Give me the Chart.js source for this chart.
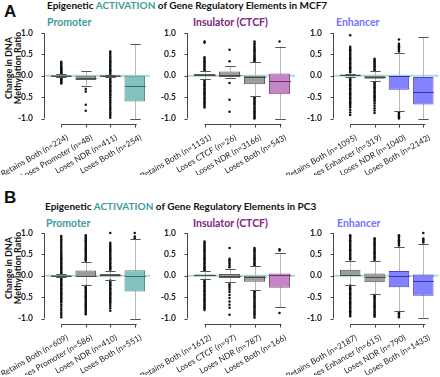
<!DOCTYPE html>
<html>
<head>
<meta charset="utf-8">
<script src="https://cdn.jsdelivr.net/npm/chart.js@4.4.0/dist/chart.umd.min.js"></script>
<style>
  body { margin: 0; width: 440px; height: 377px; background: #fff; position: relative; overflow: hidden; font-family: Lato, sans-serif; }
  canvas { position: absolute; }
  .txt { position: absolute; white-space: nowrap; font-weight: bold; line-height: 1; color: #111; }
  .big { font-family: 'Liberation Sans', Arial, sans-serif; font-size: 17px; }
  .title { font-size: 10px; }
  .head { font-size: 10.5px; }
  .ylab { font-size: 9px; line-height: 8.5px; text-align: center; transform: translate(-50%, -50%) rotate(-90deg); }
  .teal { color: #3f9c98; }
  .purple { color: #7d2580; }
  .blue { color: #7373ff; }
</style>
</head>
<body>
<div class="txt big" style="left:4px;top:3px">A</div>
<div class="txt title" style="left:47px;top:0px">Epigenetic <span class="teal">ACTIVATION</span> of Gene Regulatory Elements in MCF7</div>
<div class="txt head teal" style="left:47px;top:16.5px">Promoter</div>
<div class="txt head purple" style="left:193px;top:16.5px">Insulator (CTCF)</div>
<div class="txt head blue" style="left:336px;top:16.5px">Enhancer</div>
<div class="txt ylab" style="left:13px;top:68px">Change in DNA<br>Methylation Ratio</div>

<div class="txt big" style="left:4px;top:189px">B</div>
<div class="txt title" style="left:45px;top:201.3px">Epigenetic <span class="teal">ACTIVATION</span> of Gene Regulatory Elements in PC3</div>
<div class="txt head teal" style="left:46px;top:218px">Promoter</div>
<div class="txt head purple" style="left:193px;top:218px">Insulator (CTCF)</div>
<div class="txt head blue" style="left:337px;top:218px">Enhancer</div>
<div class="txt ylab" style="left:13px;top:268px">Change in DNA<br>Methylation Ratio</div>

<canvas id="a1" width="152" height="150" style="left:0px;top:25px"></canvas>
<canvas id="a2" width="177" height="150" style="left:120px;top:25px"></canvas>
<canvas id="a3" width="170" height="150" style="left:270px;top:25px"></canvas>
<canvas id="b1" width="152" height="150" style="left:0px;top:225px"></canvas>
<canvas id="b2" width="177" height="150" style="left:120px;top:225px"></canvas>
<canvas id="b3" width="170" height="150" style="left:270px;top:225px"></canvas>

<script>
// ---- MCF7 promoter ----
const mcf7PromoterLabels = ['Retains Both (n=224)', 'Loses Promoter (n=48)', 'Loses NDR (n=411)', 'Loses Both (n=254)'];
const mcf7PromoterMin = [-0.03, -0.23, -0.02, -1.0];
const mcf7PromoterQ1 = [-0.01, -0.1, -0.01, -0.6];
const mcf7PromoterMedian = [0, -0.05, 0, -0.25];
const mcf7PromoterQ3 = [0.01, 0, 0.01, 0];
const mcf7PromoterMax = [0.03, 0.1, 0.02, 0.75];
const mcf7PromoterOutliers = [
  [0.33, 0.29, 0.26, 0.23, 0.2, 0.18, 0.16, 0.14, 0.12, 0.1, 0.08, 0.06, 0.04, -0.04, -0.06, -0.08, -0.1, -0.12, -0.14, -0.16, -0.18],
  [-0.31, -0.37, -0.68, -0.82],
  [0.57, 0.53, 0.49, 0.45, 0.41, 0.37, 0.34, 0.31, 0.28, 0.25, 0.22, 0.19, 0.16, 0.13, 0.1, 0.07, 0.04, -0.04, -0.07, -0.1, -0.13, -0.16, -0.19, -0.22, -0.25, -0.28, -0.31, -0.34, -0.37, -0.4, -0.43, -0.46, -0.5, -0.54, -0.58, -0.62, -0.66, -0.7, -0.74, -0.78, -0.82, -0.86, -0.9, -0.94, -0.98],
  []
];

// ---- MCF7 insulator ----
const mcf7InsulatorLabels = ['Retains Both (n=1131)', 'Loses CTCF (n=26)', 'Loses NDR (n=3166)', 'Loses Both (n=543)'];
const mcf7InsulatorMin = [-0.08, -0.05, -0.48, -1.0];
const mcf7InsulatorQ1 = [-0.01, -0.03, -0.2, -0.43];
const mcf7InsulatorMedian = [0.01, 0.02, -0.03, -0.13];
const mcf7InsulatorQ3 = [0.04, 0.1, 0, 0.05];
const mcf7InsulatorMax = [0.1, 0.22, 0.31, 0.68];
const mcf7InsulatorOutliers = [
  [0.8, 0.77, 0.43, 0.4, 0.37, 0.34, 0.31, 0.28, 0.25, 0.22, 0.19, 0.16, 0.13, -0.11, -0.14, -0.17, -0.2, -0.23, -0.26, -0.29, -0.32, -0.35, -0.38, -0.41, -0.44, -0.47, -0.5, -0.53, -0.56, -0.59, -0.62, -0.65, -0.68, -0.71, -0.74],
  [0.61, 0.34, -0.17, -0.56, -0.84],
  [0.8, 0.76, 0.72, 0.68, 0.65, 0.62, 0.59, 0.56, 0.53, 0.5, 0.47, 0.44, 0.41, 0.38, 0.35, 0.33, -0.5, -0.53, -0.56, -0.59, -0.62, -0.65, -0.68, -0.71, -0.74, -0.77, -0.8, -0.83, -0.86, -0.89, -0.92, -0.95, -0.98, -1.0],
  [0.8]
];

// ---- MCF7 enhancer ----
const mcf7EnhancerLabels = ['Retains Both (n=1095)', 'Loses Enhancer (n=319)', 'Loses NDR (n=1040)', 'Loses Both (n=2142)'];
const mcf7EnhancerMin = [-0.02, -0.12, -0.82, -1.0];
const mcf7EnhancerQ1 = [0, -0.07, -0.33, -0.67];
const mcf7EnhancerMedian = [0.02, -0.03, -0.01, -0.39];
const mcf7EnhancerQ3 = [0.03, 0, 0, -0.03];
const mcf7EnhancerMax = [0.05, 0.1, 0.53, 0.9];
const mcf7EnhancerOutliers = [
  [0.95, 0.68, 0.65, 0.62, 0.59, 0.56, 0.53, 0.5, 0.47, 0.44, 0.41, 0.38, 0.35, 0.32, 0.29, 0.26, 0.23, 0.2, 0.17, 0.14, 0.11, 0.08, -0.05, -0.08, -0.11, -0.14, -0.17, -0.2, -0.23, -0.26, -0.29, -0.32, -0.35, -0.38, -0.41, -0.44, -0.47, -0.5, -0.53, -0.56, -0.59, -0.62, -0.65, -0.68, -0.71, -0.74, -0.8, -0.86, -0.92],
  [0.4, 0.37, 0.34, 0.31, 0.28, 0.25, 0.22, 0.19, 0.16, 0.13, -0.15, -0.18, -0.21, -0.24, -0.27, -0.3, -0.33, -0.36, -0.39, -0.42, -0.45, -0.48, -0.51, -0.54, -0.57, -0.6, -0.65, -0.7, -0.76, -0.81, -0.87],
  [0.85, 0.75, 0.72, 0.69, 0.66, 0.63, 0.6, 0.57, -0.86, -0.89, -0.92, -0.95, -0.98, -1.0],
  []
];

// ---- PC3 promoter ----
const pc3PromoterLabels = ['Retains Both (n=609)', 'Loses Promoter (n=586)', 'Loses NDR (n=410)', 'Loses Both (n=551)'];
const pc3PromoterMin = [-0.03, -0.21, -0.09, -1.0];
const pc3PromoterQ1 = [-0.01, -0.03, -0.02, -0.37];
const pc3PromoterMedian = [0, 0, 0.02, 0];
const pc3PromoterQ3 = [0.01, 0.12, 0.04, 0.13];
const pc3PromoterMax = [0.03, 0.31, 0.12, 0.85];
const pc3PromoterOutliers = [
  [0.93, 0.89, 0.85, 0.81, 0.77, 0.73, 0.69, 0.65, 0.61, 0.57, 0.53, 0.5, 0.47, 0.44, 0.41, 0.38, 0.35, 0.32, 0.29, 0.26, 0.23, 0.2, 0.17, 0.14, 0.11, 0.08, 0.05, -0.05, -0.08, -0.11, -0.14, -0.17, -0.2, -0.23, -0.26, -0.29, -0.32, -0.35, -0.38, -0.41, -0.44, -0.47, -0.5, -0.53, -0.56, -0.59, -0.62, -0.67, -0.72, -0.77, -0.82, -0.87, -0.92, -0.97],
  [0.95, 0.92, 0.89, 0.86, 0.83, 0.8, 0.77, 0.74, 0.71, 0.68, 0.65, 0.62, 0.59, 0.56, 0.53, 0.5, 0.47, 0.44, 0.41, 0.38, 0.35, -0.24, -0.27, -0.3, -0.33, -0.36, -0.39, -0.42, -0.45, -0.48, -0.51, -0.54, -0.57, -0.6, -0.63, -0.66, -0.69, -0.72, -0.75, -0.78, -0.81, -0.84, -0.87, -0.9],
  [1.0, 0.77, 0.74, 0.71, 0.68, 0.65, 0.62, 0.59, 0.56, 0.53, 0.5, 0.47, 0.44, 0.41, 0.38, 0.35, 0.32, 0.29, 0.26, 0.23, 0.2, 0.17, 0.14, -0.11, -0.14, -0.17, -0.2, -0.23, -0.26, -0.29, -0.32, -0.35, -0.38, -0.41, -0.44, -0.47, -0.5, -0.53, -0.56, -0.59, -0.62, -0.66, -0.71, -0.76, -0.82],
  [1.0, 0.92, 0.88]
];

// ---- PC3 insulator ----
const pc3InsulatorLabels = ['Retains Both (n=1612)', 'Loses CTCF (n=97)', 'Loses NDR (n=787)', 'Loses Both (n=166)'];
const pc3InsulatorMin = [-0.08, -0.15, -0.34, -0.74];
const pc3InsulatorQ1 = [-0.01, -0.05, -0.14, -0.28];
const pc3InsulatorMedian = [0.01, 0, -0.03, 0.02];
const pc3InsulatorQ3 = [0.03, 0.04, 0, 0.05];
const pc3InsulatorMax = [0.1, 0.16, 0.22, 0.53];
const pc3InsulatorOutliers = [
  [0.8, 0.77, 0.74, 0.71, 0.68, 0.65, 0.62, 0.59, 0.56, 0.53, 0.5, 0.47, 0.44, 0.41, 0.38, 0.35, 0.32, 0.29, 0.26, 0.23, 0.2, 0.17, 0.14, 0.12, -0.1, -0.13, -0.16, -0.19, -0.22, -0.25, -0.28, -0.31, -0.34, -0.37, -0.4, -0.43, -0.46, -0.49, -0.52, -0.55, -0.58, -0.61, -0.64, -0.67, -0.7, -0.73, -0.76, -0.8],
  [0.65, 0.4, 0.36, 0.32, 0.28, 0.24, 0.2, -0.2, -0.24, -0.28, -0.33, -0.38, -0.45, -0.52, -0.6, -0.68, -0.75, -0.91],
  [0.65, 0.62, 0.59, 0.56, 0.53, 0.5, 0.47, 0.44, 0.41, 0.38, 0.35, 0.32, 0.29, 0.26, 0.24, -0.36, -0.39, -0.42, -0.45, -0.48, -0.51, -0.54, -0.57, -0.6, -0.63, -0.66, -0.69, -0.72, -0.75, -0.78, -0.81, -0.84, -0.87, -0.9, -0.94, -0.98],
  [0.62, 0.59, -0.87]
];

// ---- PC3 enhancer ----
const pc3EnhancerLabels = ['Retains Both (n=2187)', 'Loses Enhancer (n=615)', 'Loses NDR (n=790)', 'Loses Both (n=1433)'];
const pc3EnhancerMin = [-0.21, -0.43, -0.82, -0.98];
const pc3EnhancerQ1 = [-0.01, -0.15, -0.27, -0.47];
const pc3EnhancerMedian = [0.01, -0.03, 0, -0.13];
const pc3EnhancerQ3 = [0.14, 0.05, 0.11, 0.03];
const pc3EnhancerMax = [0.35, 0.35, 0.68, 0.74];
const pc3EnhancerOutliers = [
  [0.95, 0.92, 0.89, 0.86, 0.83, 0.8, 0.77, 0.74, 0.71, 0.68, 0.65, 0.62, 0.59, 0.56, 0.53, 0.5, 0.47, 0.44, 0.41, 0.38, -0.23, -0.26, -0.29, -0.32, -0.35, -0.38, -0.41, -0.44, -0.47, -0.5, -0.53, -0.56, -0.59, -0.62, -0.65, -0.68, -0.71, -0.74, -0.77, -0.8, -0.83, -0.86, -0.89, -0.92, -0.95],
  [0.88, 0.85, 0.82, 0.79, 0.76, 0.73, 0.7, 0.67, 0.64, 0.61, 0.58, 0.55, 0.52, 0.49, 0.46, 0.43, 0.4, 0.37, -0.45, -0.48, -0.51, -0.54, -0.57, -0.6, -0.63, -0.66, -0.69, -0.72, -0.75, -0.78, -0.81, -0.84, -0.87, -0.9, -0.93, -0.96],
  [0.95, 0.92, 0.89, 0.86, 0.83, 0.8, 0.77, 0.74, 0.71, -0.85, -0.88, -0.91, -0.94, -0.97],
  [1.0, 0.87, 0.84, 0.81, 0.78]
];

const yTicks = [-1, -0.5, 0, 0.5, 1];

// box colours: fill, border, median
const GRAY = ['#9c9c9c', '#5c5c5c', '#4a4a4a'];
const TEAL = ['#82c2be', '#4a8985', '#2f6e6a'];
const PURPLE = ['#c584c5', '#8a4f8a', '#6e2f6e'];
const BLUE = ['#8282ff', '#4646c8', '#3232a6'];

function boxPlugin(s) {
  return {
    id: 'boxExtras',
    beforeDatasetsDraw(chart) {
      const { ctx, chartArea, scales: { y } } = chart;
      const bars = chart.getDatasetMeta(0).data;
      ctx.save();
      // zero reference line
      const y0 = y.getPixelForValue(0);
      ctx.strokeStyle = '#abdbd7';
      ctx.lineWidth = 2;
      ctx.beginPath();
      ctx.moveTo(chartArea.left - 4, y0);
      ctx.lineTo(chartArea.right + 3, y0);
      ctx.stroke();
      // whisker stems
      ctx.strokeStyle = '#b8b8b8';
      ctx.lineWidth = 1;
      s.min.forEach((lo, i) => {
        const px = Math.round(bars[i].x) + 0.5;
        ctx.beginPath();
        ctx.moveTo(px, y.getPixelForValue(lo));
        ctx.lineTo(px, y.getPixelForValue(s.max[i]));
        ctx.stroke();
      });
      ctx.restore();
    },
    afterDatasetsDraw(chart) {
      const { ctx, scales: { y } } = chart;
      const bars = chart.getDatasetMeta(0).data;
      ctx.save();
      ctx.lineWidth = 1;
      bars.forEach((bar, i) => {
        const cx = Math.round(bar.x) + 0.5;
        const half = bar.width / 2;
        // caps
        ctx.strokeStyle = '#555';
        [s.min[i], s.max[i]].forEach(v => {
          const py = Math.round(y.getPixelForValue(v)) + 0.5;
          ctx.beginPath();
          ctx.moveTo(cx - half * 0.5, py);
          ctx.lineTo(cx + half * 0.5, py);
          ctx.stroke();
        });
        // median
        const my = Math.round(y.getPixelForValue(s.median[i])) + 0.5;
        ctx.strokeStyle = s.colors[i][2];
        ctx.beginPath();
        ctx.moveTo(cx - half, my);
        ctx.lineTo(cx + half, my);
        ctx.stroke();
      });
      ctx.restore();
    },
    afterDraw(chart) {
      const { ctx, chartArea, scales: { y } } = chart;
      const bars = chart.getDatasetMeta(0).data;
      ctx.save();
      ctx.strokeStyle = '#444';
      ctx.lineWidth = 1;
      // y axis, detached from the plot
      const ax = Math.round(chartArea.left - 5) + 0.5;
      ctx.beginPath();
      ctx.moveTo(ax, y.getPixelForValue(1));
      ctx.lineTo(ax, y.getPixelForValue(-1));
      yTicks.forEach(t => {
        const py = Math.round(y.getPixelForValue(t)) + 0.5;
        ctx.moveTo(ax, py);
        ctx.lineTo(ax - 3, py);
      });
      ctx.stroke();
      // x axis, detached below the plot
      const ay = Math.round(chartArea.bottom + 5) + 0.5;
      ctx.beginPath();
      ctx.moveTo(bars[0].x, ay);
      ctx.lineTo(bars[bars.length - 1].x + 2, ay);
      bars.forEach(b => {
        const px = Math.round(b.x) + 0.5;
        ctx.moveTo(px, ay);
        ctx.lineTo(px, ay + 3);
      });
      ctx.stroke();
      ctx.restore();
    }
  };
}

function makeBoxChart(id, labels, min, q1, median, q3, max, outliers, colors, yAxisWidth, padRight) {
  const points = [];
  outliers.forEach((list, i) => list.forEach(v => points.push({ x: labels[i], y: v })));
  const stats = { min, max, median, colors };
  return new Chart(document.getElementById(id), {
    type: 'bar',
    data: {
      labels: labels,
      datasets: [{
        data: q1.map((v, i) => [v, q3[i]]),
        backgroundColor: colors.map(c => c[0]),
        borderColor: colors.map(c => c[1]),
        borderWidth: 1,
        borderSkipped: false,
        barPercentage: 0.84,
        categoryPercentage: 1,
        order: 1
      }, {
        type: 'line',
        data: points,
        showLine: false,
        pointRadius: 1.25,
        pointBackgroundColor: '#111',
        pointBorderWidth: 0,
        clip: false,
        order: 2
      }]
    },
    options: {
      responsive: false,
      animation: false,
      events: [],
      layout: { padding: { top: 8, right: padRight, left: 0, bottom: 0 } },
      plugins: { legend: { display: false }, tooltip: { enabled: false } },
      scales: {
        x: {
          type: 'category',
          offset: true,
          grid: { display: false },
          border: { display: false },
          ticks: {
            minRotation: 30,
            maxRotation: 30,
            autoSkip: false,
            padding: 6,
            labelOffset: 6,
            color: '#222',
            font: { family: 'Lato', size: 8.2 }
          },
          afterFit: s => { s.height = 56.5; s.paddingLeft = 0; s.paddingRight = 0; }
        },
        y: {
          min: -1,
          max: 1,
          grid: { display: false },
          border: { display: false },
          afterBuildTicks: s => { s.ticks = yTicks.map(v => ({ value: v })); },
          ticks: {
            padding: 8,
            color: '#222',
            font: { family: 'Lato', size: 8.5, weight: 'bold' },
            callback: v => v.toFixed(1)
          },
          afterFit: s => { s.width = yAxisWidth; s.paddingTop = 0; s.paddingBottom = 0; }
        }
      }
    },
    plugins: [boxPlugin(stats)]
  });
}

makeBoxChart('a1', mcf7PromoterLabels, mcf7PromoterMin, mcf7PromoterQ1, mcf7PromoterMedian, mcf7PromoterQ3, mcf7PromoterMax, mcf7PromoterOutliers, [GRAY, GRAY, GRAY, TEAL], 49, 5);
makeBoxChart('a2', mcf7InsulatorLabels, mcf7InsulatorMin, mcf7InsulatorQ1, mcf7InsulatorMedian, mcf7InsulatorQ3, mcf7InsulatorMax, mcf7InsulatorOutliers, [GRAY, GRAY, GRAY, PURPLE], 72, 5);
makeBoxChart('a3', mcf7EnhancerLabels, mcf7EnhancerMin, mcf7EnhancerQ1, mcf7EnhancerMedian, mcf7EnhancerQ3, mcf7EnhancerMax, mcf7EnhancerOutliers, [GRAY, GRAY, BLUE, BLUE], 68, 4.5);
makeBoxChart('b1', pc3PromoterLabels, pc3PromoterMin, pc3PromoterQ1, pc3PromoterMedian, pc3PromoterQ3, pc3PromoterMax, pc3PromoterOutliers, [GRAY, GRAY, GRAY, TEAL], 49, 5);
makeBoxChart('b2', pc3InsulatorLabels, pc3InsulatorMin, pc3InsulatorQ1, pc3InsulatorMedian, pc3InsulatorQ3, pc3InsulatorMax, pc3InsulatorOutliers, [GRAY, GRAY, GRAY, PURPLE], 72, 5);
makeBoxChart('b3', pc3EnhancerLabels, pc3EnhancerMin, pc3EnhancerQ1, pc3EnhancerMedian, pc3EnhancerQ3, pc3EnhancerMax, pc3EnhancerOutliers, [GRAY, GRAY, BLUE, BLUE], 68, 4.5);
</script>
</body>
</html>
